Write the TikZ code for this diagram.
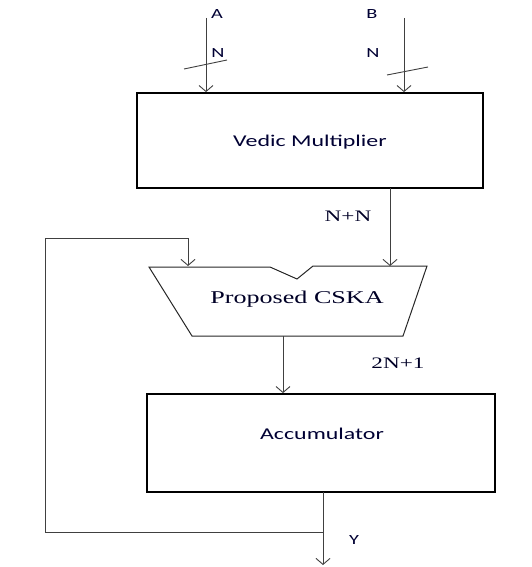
\documentclass[tikz,border=0pt]{standalone}
\usepackage{fontspec}
\setmainfont{Liberation Serif}
\newfontfamily\carlito{Carlito}
\usetikzlibrary{arrows.meta}
\newcommand{\sx}[1]{\scalebox{1.45}[1]{#1}}
\begin{document}
\begin{tikzpicture}[x=1pt,y=-1pt,
  box/.style={draw, line width=1.8pt, inner sep=0pt},
  wire/.style={draw=black!75, line width=0.9pt},
  arr/.style={wire, -{Straight Barb[length=6pt,width=14pt]}},
  sanslbl/.style={inner sep=0pt, font=\carlito\fontsize{14}{16}\selectfont, text=black!80!blue},
  sanstxt/.style={inner sep=0pt, font=\carlito\fontsize{16.5}{18}\selectfont, text=black!80!blue},
  seriftxt/.style={inner sep=0pt, font=\fontsize{16}{18}\selectfont, text=black!85!blue},
  trap/.style={draw=black!85, line width=1pt, line join=miter}]
\useasboundingbox (0,0) rectangle (532,567);

% boxes
\node[box, minimum width=346pt, minimum height=95pt] (vm) at (310,140.5) {};
\node[sanstxt] (vmtext) at (310,142) {\sx{Vedic Multiplier}};
\node[box, minimum width=348pt, minimum height=98pt] (acc) at (321,443) {};
\node[sanstxt] (acctext) at (322,434) {\sx{Accumulator}};

% trapezoid adder
\coordinate (t1) at (149,267);
\coordinate (n1) at (270,267);
\coordinate (n2) at (297,279);
\coordinate (n3) at (313,266);
\coordinate (t2) at (427,266);
\coordinate (b2) at (403,336);
\coordinate (b1) at (192,336);
\draw[trap] (t1) -- (n1) -- (n2) -- (n3) -- (t2) -- (b2) -- (b1) -- cycle;
\node[seriftxt, font=\fontsize{18}{20}\selectfont] (cska) at (297,299) {\sx{Proposed CSKA}};

% inputs
\coordinate (inA) at (206,18);
\coordinate (inB) at (404,18);
\draw[arr] (inA) -- (inA |- vm.north);
\draw[arr] (inB) -- (inB |- vm.north);
\node[sanslbl] (lA) at (217,14) {\sx{A}};
\node[sanslbl] (lB) at (372,14) {\sx{B}};
\node[sanslbl] (lNA) at (218,53) {\sx{N}};
\node[sanslbl] (lNB) at (373,53) {\sx{N}};
\coordinate (sa1) at (184,69);
\coordinate (sa2) at (227,60);
\coordinate (sb1) at (387,75);
\coordinate (sb2) at (428,67);
\draw[wire] (sa1) -- (sa2);
\draw[wire] (sb1) -- (sb2);

% multiplier to adder
\coordinate (vmout) at (390,188);
\coordinate (addin) at (390,266);
\draw[arr] (vmout) -- (addin);
\node[seriftxt] (lNN) at (348,216) {\sx{N+N}};

% adder to accumulator
\coordinate (addout) at (283,336);
\draw[arr] (addout) -- (addout |- acc.north);
\node[seriftxt] (l2N) at (398,363) {\sx{2N+1}};

% output and feedback
\coordinate (accout) at (323,492);
\coordinate (yend) at (323,565);
\coordinate (fb0) at (323,532);
\coordinate (fb1) at (45,532);
\coordinate (fb2) at (45,238);
\coordinate (fb3) at (188,238);
\coordinate (fb4) at (188,266);
\draw[arr] (accout) -- (yend);
\draw[arr] (fb0) -- (fb1) -- (fb2) -- (fb3) -- (fb4);
\node[sanslbl] (lY) at (354,540) {\sx{Y}};
\end{tikzpicture}
\end{document}
